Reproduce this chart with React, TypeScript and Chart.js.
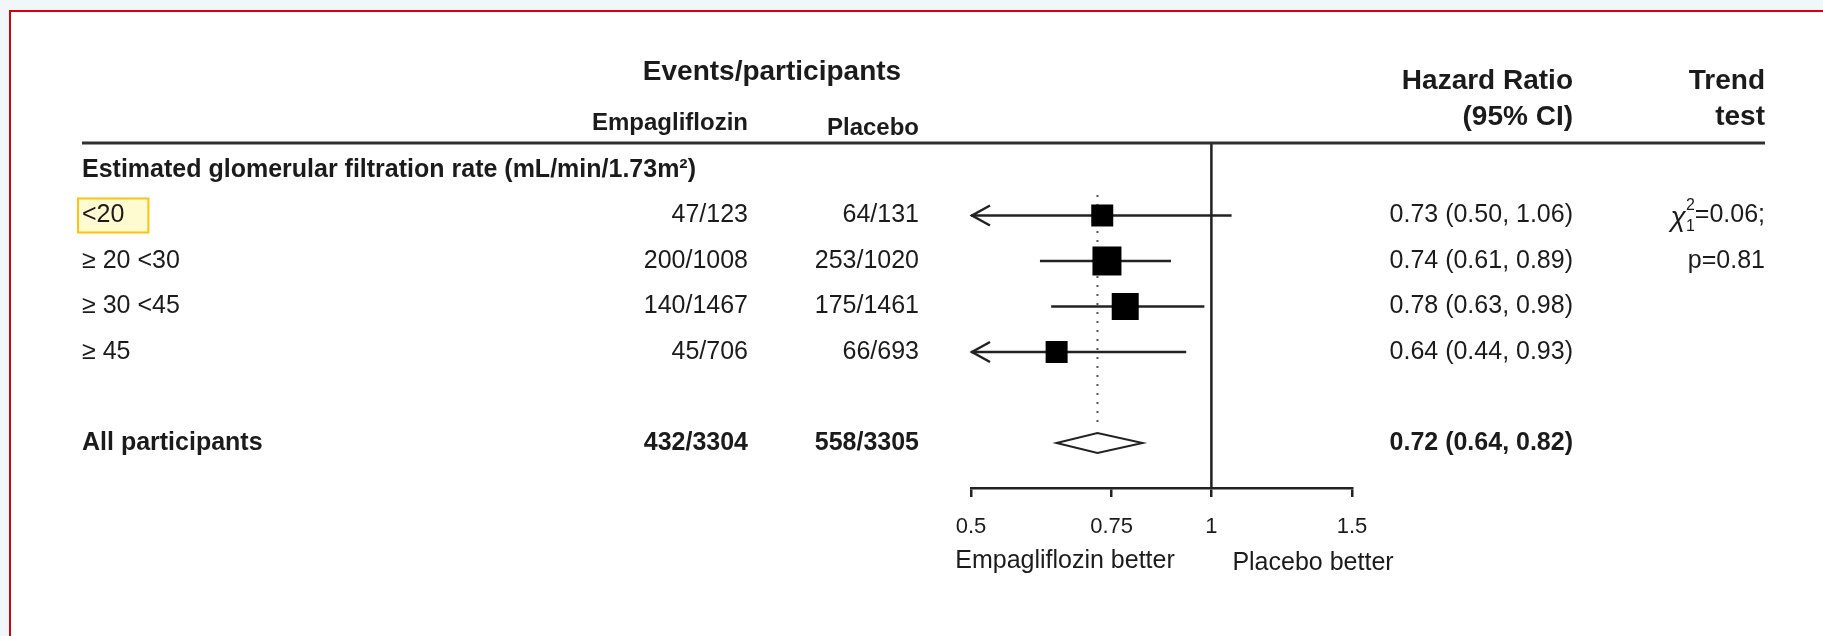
import React, { useEffect, useRef } from "react";
import { Chart, registerables } from "chart.js";

Chart.register(...registerables);

// ---------------- data ----------------
const GROUP_TITLE = "Estimated glomerular filtration rate (mL/min/1.73m²)";
const SUBGROUPS = ["<20", "≥ 20 <30", "≥ 30 <45", "≥ 45"];
const EMPA_EVENTS = [47, 200, 140, 45];
const EMPA_N = [123, 1008, 1467, 706];
const PLACEBO_EVENTS = [64, 253, 175, 66];
const PLACEBO_N = [131, 1020, 1461, 693];
const HR = [0.73, 0.74, 0.78, 0.64];
const HR_LO = [0.5, 0.61, 0.63, 0.44];
const HR_HI = [1.06, 0.89, 0.98, 0.93];

const OVERALL_LABEL = "All participants";
const OVERALL_EMPA = [432, 3304];
const OVERALL_PLACEBO = [558, 3305];
const OVERALL_HR = [0.72, 0.64, 0.82]; // estimate, lower, upper

const TREND_CHI2 = "0.06";
const TREND_P = "0.81";

const X_TICKS = [0.5, 0.75, 1, 1.5];
const X_TICK_LABELS = ["0.5", "0.75", "1", "1.5"];
const X_MIN = 0.5;
const X_MAX = 1.5;
const LEFT_LABEL = "Empagliflozin better";
const RIGHT_LABEL = "Placebo better";

// ---------------- layout / style ----------------
const W = 1823;
const H = 636;
const FONT = '"Liberation Sans", Arial, Helvetica, sans-serif';
const INK = "#1b1b1b";
const LINE = "#222222";
const SUB_ROWS = [1, 2, 3, 4];
const OVERALL_ROW = 6;
const BOX_SIDE = [22, 29, 27, 22];
const Y_MIN = -0.593;
const Y_MAX = 6.989;

const fmt = (v: number) => v.toFixed(2);

export default function App() {
  const ref = useRef<HTMLCanvasElement | null>(null);

  useEffect(() => {
    document.body.style.margin = "0";
    const canvas = ref.current;
    if (!canvas) return;

    const txt = (
      ctx: CanvasRenderingContext2D,
      s: string,
      x: number,
      y: number,
      align: CanvasTextAlign,
      size: number,
      bold = false
    ) => {
      ctx.font = `${bold ? "bold " : ""}${size}px ${FONT}`;
      ctx.textAlign = align;
      ctx.textBaseline = "middle";
      ctx.fillStyle = INK;
      ctx.fillText(s, x, y);
    };

    const background = {
      id: "pageBackground",
      beforeDraw(chart: any) {
        const ctx = chart.ctx as CanvasRenderingContext2D;
        ctx.save();
        ctx.fillStyle = "#f1f6f9";
        ctx.fillRect(0, 0, W, H);
        ctx.fillStyle = "#ffffff";
        ctx.fillRect(9, 10, W - 9, H - 10);
        ctx.fillStyle = "#d6000f";
        ctx.fillRect(9, 10, 2, H - 10);
        ctx.fillRect(9, 10, W - 9, 2);
        ctx.restore();
      },
    };

    const forest = {
      id: "forestExtras",
      afterDatasetsDraw(chart: any) {
        const ctx = chart.ctx as CanvasRenderingContext2D;
        const xs = chart.scales.x;
        const ys = chart.scales.y;
        ctx.save();
        // arrows for truncated CIs
        ctx.strokeStyle = LINE;
        ctx.lineWidth = 2.5;
        SUB_ROWS.forEach((row, i) => {
          if (HR_LO[i] <= X_MIN) {
            const x0 = xs.getPixelForValue(X_MIN);
            const y0 = ys.getPixelForValue(row);
            ctx.beginPath();
            ctx.moveTo(x0 + 19, y0 - 10);
            ctx.lineTo(x0 + 1, y0);
            ctx.lineTo(x0 + 19, y0 + 10);
            ctx.stroke();
          }
        });
        // overall diamond
        const yd = ys.getPixelForValue(OVERALL_ROW);
        const xl = xs.getPixelForValue(OVERALL_HR[1]);
        const xc = xs.getPixelForValue(OVERALL_HR[0]);
        const xr = xs.getPixelForValue(OVERALL_HR[2]);
        ctx.beginPath();
        ctx.moveTo(xl, yd);
        ctx.lineTo(xc, yd - 10);
        ctx.lineTo(xr, yd);
        ctx.lineTo(xc, yd + 10);
        ctx.closePath();
        ctx.fillStyle = "#ffffff";
        ctx.fill();
        ctx.lineWidth = 2;
        ctx.stroke();
        ctx.restore();
      },
      afterDraw(chart: any) {
        const ctx = chart.ctx as CanvasRenderingContext2D;
        const ys = chart.scales.y;
        const area = chart.chartArea;
        ctx.save();
        // header rule
        ctx.fillStyle = "#303030";
        ctx.fillRect(82, area.top - 1.5, 1765 - 82, 3);

        // column headers
        txt(ctx, "Events/participants", 772, 72, "center", 28, true);
        txt(ctx, "Empagliflozin", 748, 123, "right", 24, true);
        txt(ctx, "Placebo", 919, 128, "right", 24, true);
        txt(ctx, "Hazard Ratio", 1573, 81, "right", 28, true);
        txt(ctx, "(95% CI)", 1573, 117, "right", 28, true);
        txt(ctx, "Trend", 1765, 81, "right", 28, true);
        txt(ctx, "test", 1765, 117, "right", 28, true);

        // group title
        txt(ctx, GROUP_TITLE, 82, ys.getPixelForValue(0), "left", 25, true);

        // subgroups
        SUB_ROWS.forEach((row, i) => {
          const y = ys.getPixelForValue(row);
          if (i === 0) {
            ctx.font = `25px ${FONT}`;
            const w = ctx.measureText(SUBGROUPS[i]).width;
            ctx.fillStyle = "#fffbd0";
            ctx.fillRect(78, y - 17, w + 28, 34);
            ctx.strokeStyle = "#ffc20e";
            ctx.lineWidth = 2;
            ctx.strokeRect(78, y - 17, w + 28, 34);
          }
          txt(ctx, SUBGROUPS[i], 82, y, "left", 25);
          txt(ctx, `${EMPA_EVENTS[i]}/${EMPA_N[i]}`, 748, y, "right", 25);
          txt(ctx, `${PLACEBO_EVENTS[i]}/${PLACEBO_N[i]}`, 919, y, "right", 25);
          txt(ctx, `${fmt(HR[i])} (${fmt(HR_LO[i])}, ${fmt(HR_HI[i])})`, 1573, y, "right", 25);
        });

        // overall
        const yo = ys.getPixelForValue(OVERALL_ROW);
        txt(ctx, OVERALL_LABEL, 82, yo, "left", 25, true);
        txt(ctx, `${OVERALL_EMPA[0]}/${OVERALL_EMPA[1]}`, 748, yo, "right", 25, true);
        txt(ctx, `${OVERALL_PLACEBO[0]}/${OVERALL_PLACEBO[1]}`, 919, yo, "right", 25, true);
        txt(
          ctx,
          `${fmt(OVERALL_HR[0])} (${fmt(OVERALL_HR[1])}, ${fmt(OVERALL_HR[2])})`,
          1573,
          yo,
          "right",
          25,
          true
        );

        // trend test
        const y1 = ys.getPixelForValue(1);
        const tail = `=${TREND_CHI2};`;
        ctx.font = `25px ${FONT}`;
        const wTail = ctx.measureText(tail).width;
        ctx.font = `16px ${FONT}`;
        const wScript = Math.max(ctx.measureText("2").width, ctx.measureText("1").width);
        ctx.font = `italic 28px ${FONT}`;
        const wChi = ctx.measureText("χ").width;
        const xEnd = 1765;
        const xTail = xEnd - wTail;
        const xScript = xTail - wScript;
        const xChi = xScript - wChi;
        ctx.font = `italic 28px ${FONT}`;
        ctx.textAlign = "left";
        ctx.textBaseline = "middle";
        ctx.fillStyle = INK;
        ctx.fillText("χ", xChi, y1 + 3);
        txt(ctx, "2", xScript, y1 - 10, "left", 16);
        txt(ctx, "1", xScript, y1 + 11, "left", 16);
        txt(ctx, tail, xTail, y1, "left", 25);
        txt(ctx, `p=${TREND_P}`, 1765, ys.getPixelForValue(2), "right", 25);

        // axis titles
        txt(ctx, LEFT_LABEL, 1065, 561, "center", 25);
        txt(ctx, RIGHT_LABEL, 1313, 563, "center", 25);
        ctx.restore();
      },
    };

    const ciSets = SUB_ROWS.map((row, i) => ({
      type: "scatter" as const,
      data: [
        { x: Math.max(HR_LO[i], X_MIN), y: row },
        { x: HR_HI[i], y: row },
      ],
      showLine: true,
      borderColor: LINE,
      borderWidth: 2.5,
      pointRadius: 0,
      order: 2,
    }));

    const chart = new Chart(canvas, {
      type: "scatter",
      data: {
        datasets: [
          {
            data: [
              { x: 1, y: Y_MIN },
              { x: 1, y: Y_MAX },
            ],
            showLine: true,
            borderColor: LINE,
            borderWidth: 2.5,
            pointRadius: 0,
            order: 3,
          },
          {
            data: [
              { x: OVERALL_HR[0], y: 0.55 },
              { x: OVERALL_HR[0], y: 5.56 },
            ],
            showLine: true,
            borderColor: "#555555",
            borderWidth: 2,
            borderDash: [2, 7],
            pointRadius: 0,
            order: 3,
          },
          ...ciSets,
          {
            data: SUB_ROWS.map((row, i) => ({ x: HR[i], y: row })),
            pointStyle: "rect",
            pointRadius: BOX_SIDE.map((s) => s / Math.SQRT2),
            pointBackgroundColor: "#000000",
            pointBorderColor: "#000000",
            pointBorderWidth: 0,
            showLine: false,
            order: 1,
          },
        ] as any,
      },
      options: {
        responsive: false,
        animation: false,
        devicePixelRatio: 1,
        events: [],
        layout: { padding: { left: 971, right: W - 1352, top: 143, bottom: 0 } },
        plugins: {
          legend: { display: false },
          tooltip: { enabled: false },
        },
        scales: {
          x: {
            type: "logarithmic",
            min: X_MIN,
            max: X_MAX,
            position: "bottom",
            afterBuildTicks: (scale: any) => {
              scale.ticks = X_TICKS.map((v) => ({ value: v }));
            },
            afterFit: (scale: any) => {
              scale.height = H - 488;
            },
            ticks: {
              autoSkip: false,
              maxRotation: 0,
              minRotation: 0,
              padding: 17,
              color: INK,
              font: { family: FONT, size: 22 },
              callback: (_v: any, i: number) => X_TICK_LABELS[i],
            },
            grid: {
              display: true,
              drawOnChartArea: false,
              drawTicks: true,
              tickLength: 9,
              color: LINE,
              lineWidth: 2.5,
            },
            border: { display: true, color: LINE, width: 2.5 },
          },
          y: {
            type: "linear",
            reverse: true,
            min: Y_MIN,
            max: Y_MAX,
            display: false,
          },
        },
      } as any,
      plugins: [background, forest],
    });

    return () => chart.destroy();
  }, []);

  return (
    <div style={{ position: "absolute", left: 0, top: 0, width: W, height: H }}>
      <canvas ref={ref} width={W} height={H} style={{ display: "block", width: W, height: H }} />
    </div>
  );
}
